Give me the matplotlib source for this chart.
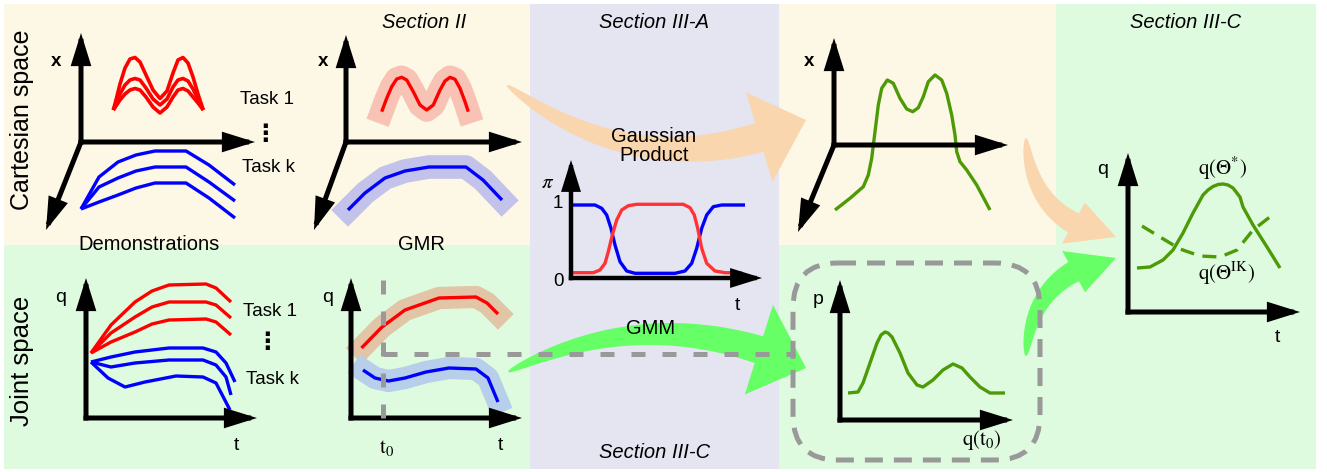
import numpy as np
import matplotlib
matplotlib.use('Agg')
import matplotlib.pyplot as plt
from matplotlib.patches import Rectangle, Polygon, FancyBboxPatch

plt.rcParams['font.family'] = ['Liberation Sans', 'DejaVu Sans']
plt.rcParams['mathtext.fontset'] = 'stix'

W, H = 1327, 472

# ---------------- data (panel units, origin = axis corner) ----------------
# Cartesian demonstrations: task 1 (red, three demos) and task k (blue)
cart_red_u = [3.23, 3.5, 3.9, 4.4, 4.9, 5.4, 5.9, 6.5, 7.2, 7.9, 8.6, 9.2, 9.7,
              10.2, 10.7, 11.2, 11.7, 12.23]
cart_red_demos = [
    [3.2, 4.2, 5.8, 7.4, 8.3, 8.45, 8.0, 6.7, 5.2, 4.35, 5.1, 6.9, 8.2, 8.45, 7.9, 6.5, 4.8, 3.2],
    [3.2, 3.8, 4.8, 5.7, 6.2, 6.35, 6.2, 5.4, 4.3, 3.7, 4.3, 5.5, 6.2, 6.35, 6.1, 5.3, 4.3, 3.2],
    [3.2, 3.6, 4.2, 4.8, 5.2, 5.35, 5.2, 4.5, 3.5, 2.9, 3.5, 4.5, 5.2, 5.35, 5.1, 4.5, 3.9, 3.2],
]
cart_blue_u = [0.0, 1.8, 3.7, 5.5, 7.4, 10.5, 12.8, 15.4]
cart_blue_demos = [
    [-6.7, -3.5, -2.0, -1.3, -0.9, -0.9, -2.3, -4.3],
    [-6.7, -4.5, -3.6, -2.9, -2.5, -2.5, -4.0, -5.9],
    [-6.7, -6.0, -5.3, -4.6, -4.1, -4.1, -5.6, -7.6],
]

# Cartesian GMR means
gmr_cart_red_u = [3.57, 4.07, 4.57, 5.07, 5.57, 6.07, 6.73, 7.4, 8.07, 8.73, 9.4, 9.9,
                  10.4, 10.9, 11.4, 11.9, 12.23]
gmr_cart_red_v = [3.03, 4.37, 5.53, 6.3, 6.47, 6.2, 5.03, 3.7, 3.2, 3.7, 5.2, 6.1,
                  6.47, 6.27, 5.37, 4.03, 3.03]
gmr_cart_blue_u = [0.2, 1.9, 3.9, 5.9, 8.3, 12.0, 13.7, 15.6]
gmr_cart_blue_v = [-6.8, -5.1, -3.6, -2.9, -2.5, -2.5, -3.8, -5.8]

# Joint space demonstrations
joint_red_t = [0.5, 2.5, 4.9, 6.6, 8.3, 12.0, 13.0, 14.5]
joint_red_demos = [
    [6.5, 9.3, 11.6, 12.7, 13.3, 13.4, 13.0, 11.6],
    [6.5, 8.5, 10.1, 11.1, 11.6, 11.6, 11.3, 10.0],
    [6.5, 7.6, 8.6, 9.4, 9.8, 9.9, 9.6, 8.3],
]
joint_blue_t = [
    [0.5, 2.5, 4.9, 8.3, 11.7, 13.0, 14.0, 14.9],
    [0.5, 2.5, 4.9, 8.3, 11.7, 13.0, 14.0, 14.5],
    [0.5, 2.2, 3.9, 5.9, 9.0, 11.7, 13.0, 14.4],
]
joint_blue_demos = [
    [5.6, 6.1, 6.6, 7.0, 7.0, 6.6, 5.5, 3.6],
    [5.6, 5.1, 5.5, 5.8, 5.8, 5.3, 4.1, 2.3],
    [5.6, 4.0, 3.1, 3.6, 4.2, 4.1, 3.5, 0.8],
]

# Joint space GMR means
gmr_joint_red_t = [1.05, 3.1, 5.4, 8.8, 12.5, 13.6, 14.7]
gmr_joint_red_q = [7.0, 9.1, 10.8, 12.0, 12.1, 11.5, 10.4]
gmr_joint_blue_t = [1.2, 2.4, 3.75, 5.4, 7.5, 9.8, 12.5, 13.7, 14.7]
gmr_joint_blue_q = [4.8, 4.0, 3.7, 4.0, 4.6, 5.0, 4.9, 4.0, 1.6]
t0 = 3.2
q_t0 = 6.4

# Mixing weights pi(t)
pi_blue_t = [0.13, 2.4, 3.07, 3.57, 4.0, 4.4, 4.9, 5.57, 6.4, 10.4, 11.4, 12.07,
             12.57, 13.07, 13.57, 14.23, 15.07, 17.4]
pi_blue = [7.3, 7.3, 6.97, 6.3, 4.97, 3.3, 1.63, 0.7, 0.47, 0.47, 0.7, 1.47,
           2.97, 4.97, 6.3, 7.13, 7.3, 7.3]
pi_red_t = [0.0, 2.23, 2.9, 3.4, 3.73, 4.13, 4.57, 5.07, 5.73, 6.57, 11.23, 11.9,
            12.33, 12.67, 13.07, 13.57, 14.4, 15.4, 17.07]
pi_red = [0.53, 0.53, 0.8, 1.47, 2.63, 4.3, 5.8, 6.8, 7.23, 7.37, 7.37, 7.03,
          6.3, 4.97, 2.97, 1.47, 0.7, 0.53, 0.53]

# Product trajectory in Cartesian space
prod_u = [0.1, 1.6, 2.93, 3.43, 3.77, 4.1, 4.43, 4.77, 5.33, 5.93, 6.6, 7.27, 7.87,
          8.43, 8.93, 9.43, 10.1, 10.77, 11.27, 11.77, 12.1, 12.27, 12.6, 13.27, 14.27, 15.6]
prod_v = [-6.5, -5.33, -4.17, -3.0, -1.33, 1.33, 4.0, 5.67, 6.5, 6.17, 4.67, 3.6, 3.33,
          3.73, 4.83, 6.33, 7.0, 6.5, 5.17, 3.0, 1.0, -0.67, -1.67, -2.5, -4.0, -6.5]

# GMM density p(q(t0))
gmm_q = [0.8, 1.8, 2.3, 3.0, 3.7, 4.1, 4.5, 4.8, 5.2, 6.0, 6.8, 7.7, 8.3, 9.3,
         10.3, 11.3, 12.2, 13.0, 14.0, 15.0, 16.5]
gmm_p = [2.7, 2.8, 3.7, 5.7, 7.7, 8.5, 8.8, 8.7, 8.3, 6.7, 4.7, 3.5, 3.3, 4.0,
         5.0, 5.6, 5.2, 4.3, 3.3, 2.7, 2.7]

# Final joint trajectories
opt_t = [0.9, 2.2, 3.5, 4.5, 5.5, 6.5, 7.5, 8.0, 8.5, 9.0, 9.5, 10.0, 10.5, 11.2,
         11.5, 12.5, 13.9, 15.2]
opt_q = [4.4, 4.5, 5.2, 6.2, 7.9, 9.9, 11.7, 12.2, 12.55, 12.75, 12.8, 12.7, 12.4,
         11.5, 10.5, 8.7, 6.5, 4.4]
ik_t = [1.4, 3.2, 5.2, 7.2, 9.2, 10.9, 12.5, 14.7]
ik_q = [8.6, 7.5, 6.3, 5.6, 5.5, 6.2, 8.2, 9.9]

# ---------------- style ----------------
CREAM = '#fdf7e5'
LAVENDER = '#e5e4f1'
MINT = '#dffbdf'
RED = '#ff0000'
BLUE = '#0000ff'
GREEN = '#4c9a06'
ORANGE_ARROW = '#f9d6ae'
GREEN_ARROW = '#66ff66'
GRAY = '#999999'

fig = plt.figure(figsize=(W / 100, H / 100), dpi=100)
bg = fig.add_axes([0, 0, 1, 1])
bg.set_xlim(0, W)
bg.set_ylim(H, 0)
bg.set_axis_off()

for (x0, y0, x1, y1, c) in [(4, 4, 530, 245, CREAM), (4, 245, 530, 469, MINT),
                            (530, 4, 779, 469, LAVENDER), (779, 4, 1056, 245, CREAM),
                            (779, 245, 1056, 469, MINT), (1056, 4, 1316, 469, MINT)]:
    bg.add_patch(Rectangle((x0, y0), x1 - x0, y1 - y0, color=c, lw=0, zorder=0))


def panel(ox, oy, left, top, right, bottom):
    a = fig.add_axes([left / W, 1 - bottom / H, (right - left) / W, (bottom - top) / H])
    a.set_xlim((left - ox) / 10, (right - ox) / 10)
    a.set_ylim((oy - bottom) / 10, (oy - top) / 10)
    a.set_axis_off()
    return a


def axis_arrow(a, x1, y1, lw=3.6):
    a.annotate('', xy=(x1, y1), xytext=(0, 0), annotation_clip=False,
               arrowprops=dict(arrowstyle='-|>,head_length=1.6,head_width=0.5',
                               mutation_scale=10, lw=lw, color='black',
                               shrinkA=0, shrinkB=0, capstyle='projecting',
                               joinstyle='miter'))


def curve(a, x, y, color, lw=2.4, **kw):
    a.plot(x, y, color=color, lw=lw, clip_on=False, solid_capstyle='butt',
           solid_joinstyle='round', **kw)


def band(a, x, y, color, lw):
    a.plot(x, y, color=color, lw=lw, clip_on=False, solid_capstyle='projecting',
           solid_joinstyle='round')


# --- panel 1: Cartesian demonstrations
a1 = panel(81, 142, 40, 30, 260, 235)
for v in cart_red_demos:
    curve(a1, cart_red_u, v, RED, lw=2.6)
for v in cart_blue_demos:
    curve(a1, cart_blue_u, v, BLUE, lw=2.4)
for tip in [(0, 10.9), (17.4, 0), (-3.5, -8.8)]:
    axis_arrow(a1, *tip)

# --- panel 2: Cartesian GMR
a2 = panel(346, 142, 305, 30, 525, 235)
band(a2, gmr_cart_red_u, gmr_cart_red_v, '#f8c3b4', 17)
band(a2, gmr_cart_blue_u, gmr_cart_blue_v, '#c3c2eb', 17)
curve(a2, gmr_cart_red_u, gmr_cart_red_v, RED)
curve(a2, gmr_cart_blue_u, gmr_cart_blue_v, BLUE)
for tip in [(0, 10.7), (17.6, 0), (-3.2, -8.8)]:
    axis_arrow(a2, *tip)

# --- panel 3: joint demonstrations
a3 = panel(86, 418, 80, 270, 262, 425)
for q in joint_red_demos:
    curve(a3, joint_red_t, q, RED)
for t, q in zip(joint_blue_t, joint_blue_demos):
    curve(a3, t, q, BLUE)
for tip in [(0, 14.0), (17.1, 0)]:
    axis_arrow(a3, *tip)

# --- panel 4: joint GMR
a4 = panel(351, 418, 345, 270, 525, 425)
band(a4, gmr_joint_red_t, gmr_joint_red_q, '#e2c4a6', 16)
band(a4, gmr_joint_blue_t, gmr_joint_blue_q, '#b7cfea', 16)
curve(a4, gmr_joint_red_t, gmr_joint_red_q, RED)
curve(a4, gmr_joint_blue_t, gmr_joint_blue_q, BLUE)
a4.plot([t0, t0], [0, 13.8], color=GRAY, lw=3.6, dashes=(2.8, 3.4), clip_on=False,
        zorder=5)
a4.plot([t0, 44.4], [q_t0, q_t0], color=GRAY, lw=3.6, dashes=(2.8, 3.4),
        clip_on=False, zorder=5)
for tip in [(0, 14.0), (17.1, 0)]:
    axis_arrow(a4, *tip)

# --- mixing weights panel
ap = panel(571, 278, 565, 155, 765, 285)
curve(ap, pi_blue_t, pi_blue, BLUE)
curve(ap, pi_red_t, pi_red, '#ff3333')
for tip in [(0, 11.8), (19.1, 0)]:
    axis_arrow(ap, *tip, lw=3.2)

# --- product trajectory panel
a5 = panel(834, 145, 790, 30, 1012, 236)
curve(a5, prod_u, prod_v, GREEN)
for tip in [(0, 10.7), (17.4, 0), (-3.6, -8.7)]:
    axis_arrow(a5, *tip)

# --- GMM density panel
a6 = panel(840, 420, 834, 275, 1016, 426)
curve(a6, gmm_q, gmm_p, GREEN)
for tip in [(0, 14.0), (17.3, 0)]:
    axis_arrow(a6, *tip)

# --- final joint trajectory panel
a7 = panel(1128, 312, 1122, 148, 1303, 318)
curve(a7, opt_t, opt_q, GREEN)
a7.plot(ik_t, ik_q, color=GREEN, lw=2.4, dashes=(4.2, 2.6), clip_on=False)
for tip in [(0, 15.9), (17.2, 0)]:
    axis_arrow(a7, *tip)


# ---------------- big curved arrows (pixel coords) ----------------
def flow_arrow(pa, pb, rad, head_len, head_w, tail_w, color):
    A = np.array(pa, float)
    B = np.array(pb, float)
    d = B - A
    C = (A + B) / 2 + rad * np.array([-d[1], d[0]])
    s = np.linspace(0, 1, 300)[:, None]
    P = (1 - s) ** 2 * A + 2 * (1 - s) * s * C + s ** 2 * B
    L = np.concatenate([[0], np.cumsum(np.hypot(*np.diff(P, axis=0).T))])
    k = np.searchsorted(L, L[-1] - head_len)
    T = np.gradient(P, axis=0)
    T /= np.linalg.norm(T, axis=1)[:, None]
    N = np.stack([-T[:, 1], T[:, 0]], axis=1)
    w = tail_w / 2 * np.sqrt(L[:k + 1] / L[k])
    left = P[:k + 1] + N[:k + 1] * w[:, None]
    right = P[:k + 1] - N[:k + 1] * w[:, None]
    base, nb = P[k], N[k]
    poly = np.vstack([left, base + nb * head_w / 2, B, base - nb * head_w / 2, right[::-1]])
    bg.add_patch(Polygon(poly, closed=True, color=color, lw=0, zorder=2))


flow_arrow((507, 85), (806, 120), 0.3, 50, 93, 30, ORANGE_ARROW)
flow_arrow((508, 372), (806, 368), -0.24, 51, 94, 28, GREEN_ARROW)
flow_arrow((1026, 138), (1116, 237), 0.4, 45, 47, 22, ORANGE_ARROW)
flow_arrow((1026, 356), (1116, 258), -0.4, 45, 47, 22, GREEN_ARROW)

bg.add_patch(FancyBboxPatch((793, 263), 247, 197,
                            boxstyle='round,pad=0,rounding_size=45', fill=False,
                            ec=GRAY, lw=3.6, ls=(0, (3.6, 2.2)), zorder=3))


# ---------------- text ----------------
def label(x, y, s, size=13.5, **kw):
    bg.text(x, y, s, ha='center', va='center', fontsize=size, zorder=6, **kw)


label(22, 120, 'Cartesian space', 18, rotation=90)
label(22, 361, 'Joint space', 18.5, rotation=90)
label(149, 244, 'Demonstrations', 14.5)
label(421, 244, 'GMR', 14.5)
label(424, 22, 'Section II', 14.5, style='italic')
label(654, 22, 'Section III-A', 14.5, style='italic')
label(655, 452, 'Section III-C', 14.5, style='italic')
label(1186, 22, 'Section III-C', 14.5, style='italic')
label(654, 146, 'Gaussian\nProduct', 14.5, linespacing=1.05)
label(651, 328, 'GMM', 14.5)

for x, y in [(267, 100), (270, 312)]:
    label(x, y, 'Task 1')
for x, y in [(268, 167), (272, 380)]:
    label(x, y, 'Task k')
for x, y in [(265, 134), (267, 342)]:
    label(x, y, '\u22ee', 17, family='DejaVu Sans', fontweight='bold')

for x, y in [(56, 61), (323, 61), (809, 61)]:
    label(x, y, 'x', 13.5, fontweight='bold')
for x, y in [(61, 297), (328, 297), (1103, 170)]:
    label(x, y, 'q', 14)
for x, y in [(236, 446), (500, 446), (737, 305), (1277, 337)]:
    label(x, y, 't', 14)
label(818, 299, 'p', 14)
label(548, 183, r'$\pi$', 15)
label(558, 203, '1', 13.5)
label(558, 282, '0', 13.5)
label(387, 448, r'$\mathrm{t_0}$', 15)
label(982, 440, r'$\mathrm{q(t_0)}$', 15)
label(1222, 168, r'$\mathrm{q(\Theta^{*})}$', 15)
label(1227, 273, r'$\mathrm{q(\Theta^{IK})}$', 15)

fig.savefig('out.png', dpi=100)
